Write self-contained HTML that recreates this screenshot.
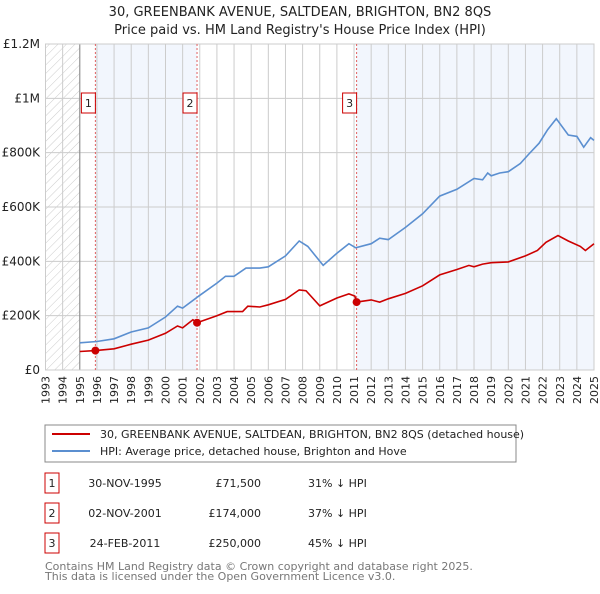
<!DOCTYPE html>
<html><head><meta charset="utf-8"><style>
body{margin:0;background:#fff;font-family:"DejaVu Sans","Liberation Sans",sans-serif;}
svg text{font-family:"DejaVu Sans","Liberation Sans",sans-serif;}
</style></head><body>
<svg id="c" width="600" height="590" viewBox="0 0 600 590" xmlns="http://www.w3.org/2000/svg">
<defs><pattern id="hatch" width="6" height="6" patternUnits="userSpaceOnUse" patternTransform="rotate(45)"><line x1="0" y1="0" x2="0" y2="6" stroke="#ccc" stroke-width="1"/></pattern></defs>
<text x="300" y="16" text-anchor="middle" font-size="13" fill="#222">30, GREENBANK AVENUE, SALTDEAN, BRIGHTON, BN2 8QS</text>
<text x="300" y="34" text-anchor="middle" font-size="13" fill="#222">Price paid vs. HM Land Registry's House Price Index (HPI)</text>
<g id="plot"></g>
<g id="xlabels" font-size="11" fill="#222" text-anchor="end">
<text transform="translate(49.5,376) rotate(-90)">1993</text>
<text transform="translate(66.6,376) rotate(-90)">1994</text>
<text transform="translate(83.8,376) rotate(-90)">1995</text>
<text transform="translate(100.9,376) rotate(-90)">1996</text>
<text transform="translate(118.1,376) rotate(-90)">1997</text>
<text transform="translate(135.2,376) rotate(-90)">1998</text>
<text transform="translate(152.4,376) rotate(-90)">1999</text>
<text transform="translate(169.5,376) rotate(-90)">2000</text>
<text transform="translate(186.6,376) rotate(-90)">2001</text>
<text transform="translate(203.8,376) rotate(-90)">2002</text>
<text transform="translate(220.9,376) rotate(-90)">2003</text>
<text transform="translate(238.1,376) rotate(-90)">2004</text>
<text transform="translate(255.2,376) rotate(-90)">2005</text>
<text transform="translate(272.4,376) rotate(-90)">2006</text>
<text transform="translate(289.5,376) rotate(-90)">2007</text>
<text transform="translate(306.6,376) rotate(-90)">2008</text>
<text transform="translate(323.8,376) rotate(-90)">2009</text>
<text transform="translate(340.9,376) rotate(-90)">2010</text>
<text transform="translate(358.1,376) rotate(-90)">2011</text>
<text transform="translate(375.2,376) rotate(-90)">2012</text>
<text transform="translate(392.4,376) rotate(-90)">2013</text>
<text transform="translate(409.5,376) rotate(-90)">2014</text>
<text transform="translate(426.6,376) rotate(-90)">2015</text>
<text transform="translate(443.8,376) rotate(-90)">2016</text>
<text transform="translate(460.9,376) rotate(-90)">2017</text>
<text transform="translate(478.1,376) rotate(-90)">2018</text>
<text transform="translate(495.2,376) rotate(-90)">2019</text>
<text transform="translate(512.4,376) rotate(-90)">2020</text>
<text transform="translate(529.5,376) rotate(-90)">2021</text>
<text transform="translate(546.6,376) rotate(-90)">2022</text>
<text transform="translate(563.8,376) rotate(-90)">2023</text>
<text transform="translate(580.9,376) rotate(-90)">2024</text>
<text transform="translate(598.0,376) rotate(-90)">2025</text>
</g>
<rect x="45" y="425" width="471" height="37" fill="#fff" stroke="#888"/>
<line x1="52" y1="434" x2="90" y2="434" stroke="#cc0000" stroke-width="2"/>
<text x="100" y="438" font-size="11" fill="#222">30, GREENBANK AVENUE, SALTDEAN, BRIGHTON, BN2 8QS (detached house)</text>
<line x1="52" y1="451" x2="90" y2="451" stroke="#5b8fd0" stroke-width="2"/>
<text x="100" y="455" font-size="11" fill="#222">HPI: Average price, detached house, Brighton and Hove</text>
<g id="table" font-size="11" fill="#222"></g>
<text x="45" y="570" font-size="11" fill="#777">Contains HM Land Registry data © Crown copyright and database right 2025.</text>
<text x="45" y="580" font-size="11" fill="#777">This data is licensed under the Open Government Licence v3.0.</text>
</svg>
<script>
const hpiYears=[1995,1996,1997,1998,1999,2000,2000.7,2001,2002,2003,2003.5,2004,2004.7,2005.5,2006,2007,2007.8,2008.3,2009.2,2010,2010.7,2011.1,2012,2012.5,2013,2014,2015,2016,2017,2018,2018.5,2018.8,2019,2019.5,2020,2020.7,2021.2,2021.8,2022.3,2022.8,2023.5,2024,2024.4,2024.8,2025];
const hpiValues=[100,105,115,140,155,195,235,228,275,320,345,345,375,375,380,420,475,455,385,430,465,450,465,485,480,525,575,640,665,705,700,725,715,725,730,760,795,835,885,925,865,860,820,855,845];
const redYears=[1995,1995.91,1997,1998,1999,2000,2000.7,2001,2001.6,2001.84,2003,2003.6,2004.5,2004.8,2005.5,2006,2007,2007.8,2008.2,2009,2010,2010.7,2011.05,2011.15,2012,2012.5,2013,2014,2015,2016,2017,2017.7,2018,2018.5,2019,2020,2021,2021.7,2022.2,2022.9,2023.5,2024.2,2024.5,2025];
const redValues=[68,71.5,78,95,110,135,162,155,185,174,200,215,215,235,232,240,260,295,292,236,265,280,272,250,258,250,262,282,310,350,370,385,380,390,395,398,420,440,470,495,475,455,440,465];
const saleYears=[1995.91,2001.84,2011.15];
const salePrices=[71.5,174,250];
const saleLabels=["1","2","3"];
const saleDates=["30-NOV-1995","02-NOV-2001","24-FEB-2011"];
const salePriceText=["£71,500","£174,000","£250,000"];
const saleHpiText=["31% ↓ HPI","37% ↓ HPI","45% ↓ HPI"];
const yTicks=[0,200,400,600,800,1000,1200];
const yTickLabels=["£0","£200K","£400K","£600K","£800K","£1M","£1.2M"];
const xStart=1993,xEnd=2025,yMax=1200;
const L=45.5,R=594,T=44,B=370;
const X=y=>L+(y-xStart)/(xEnd-xStart)*(R-L);
const Y=v=>B-v/yMax*(B-T);
const NS="http://www.w3.org/2000/svg";
const g=document.getElementById('plot');
function mk(tag,attrs,parent){const e=document.createElementNS(NS,tag);for(const k in attrs)e.setAttribute(k,attrs[k]);(parent||g).appendChild(e);return e;}
let e;
e=mk('rect',{x:X(saleYears[0]),y:T,width:X(saleYears[1])-X(saleYears[0]),height:B-T,fill:'#f2f6fd'});


e=mk('rect',{x:X(saleYears[2]),y:T,width:R-X(saleYears[2]),height:B-T,fill:'#f2f6fd'});


e=mk('rect',{x:L,y:T,width:X(1995)-L,height:B-T,fill:'url(#hatch)'});


for(let yr=xStart;yr<=xEnd;yr++){
  e=mk('line',{x1:X(yr),x2:X(yr),y1:T,y2:B,stroke:'#ccc','stroke-width':1});
  
  
}
yTicks.forEach((v,i)=>{
  e=mk('line',{x1:L,x2:R,y1:Y(v),y2:Y(v),stroke:'#ccc','stroke-width':1});
  
  
  e=mk('text',{x:40,y:Y(v)+4,'text-anchor':'end','font-size':12,fill:'#222'});
  e.textContent=yTickLabels[i];
  
  
});
e=mk('line',{x1:X(1995),x2:X(1995),y1:T,y2:B,stroke:'#888','stroke-width':1});


e=mk('rect',{x:L,y:T,width:R-L,height:B-T,fill:'none',stroke:'#ccc'});


saleYears.forEach((s,i)=>{
  e=mk('line',{x1:X(s),x2:X(s),y1:T,y2:B,stroke:'#e06060','stroke-width':1,'stroke-dasharray':'2,2'});
  
  
  e=mk('rect',{x:X(s)-14,y:93,width:14,height:20,fill:'#fff',stroke:'#c00','stroke-width':1});
  
  
  e=mk('text',{x:X(s)-7,y:107,'text-anchor':'middle','font-size':11,fill:'#222'});
  e.textContent=saleLabels[i];
  
  
});
const pts=(xs,vs)=>xs.map((x,i)=>X(x).toFixed(1)+','+Y(vs[i]).toFixed(1)).join(' ');
e=mk('polyline',{points:pts(hpiYears,hpiValues),fill:'none',stroke:'#5b8fd0','stroke-width':1.6});


e=mk('polyline',{points:pts(redYears,redValues),fill:'none',stroke:'#cc0000','stroke-width':1.6});


saleYears.forEach((s,i)=>{
  e=mk('circle',{cx:X(s),cy:Y(salePrices[i]),r:4,fill:'#cc0000'});
  
  
});
const tb=document.getElementById('table');
saleYears.forEach((s,i)=>{
  const ry=473+i*30;
  e=mk('rect',{x:45,y:ry,width:14,height:20,fill:'#fff',stroke:'#c00'},tb);
  
  
  e=mk('text',{x:52,y:ry+14,'text-anchor':'middle'},tb);e.textContent=saleLabels[i];
  
  
  e=mk('text',{x:125,y:ry+14,'text-anchor':'middle'},tb);e.textContent=saleDates[i];
  
  
  e=mk('text',{x:261,y:ry+14,'text-anchor':'end'},tb);e.textContent=salePriceText[i];
  
  
  e=mk('text',{x:308,y:ry+14},tb);e.textContent=saleHpiText[i];
  
  
});
</script>
</body></html>
